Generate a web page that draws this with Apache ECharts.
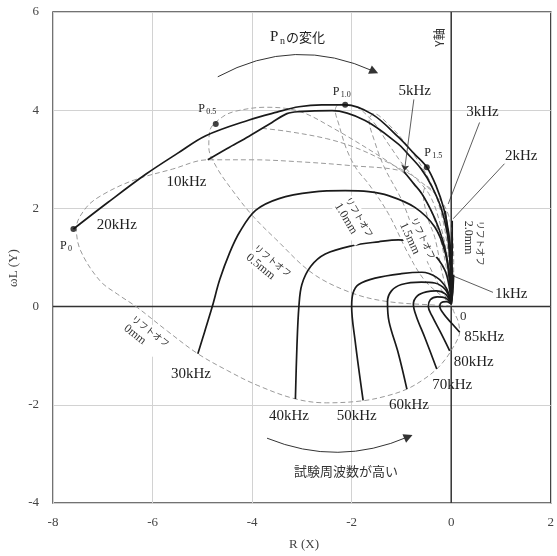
<!DOCTYPE html>
<html><head><meta charset="utf-8">
<script src="https://cdn.jsdelivr.net/npm/echarts@6/dist/echarts.min.js"></script>
<style>html,body{margin:0;padding:0;background:#fff}#c{width:557px;height:556px}</style>
</head><body><div id="c"></div>
<script>
// ---- axis ranges / ticks ----
const xRange = [-8, 2], xStep = 2;
const yRange = [-4, 6], yStep = 2;

// ---- frequency curves (solid): [R, ωL] ----
const f20k = [[-7.59,1.58],[-6.9,2.12],[-6.13,2.7],[-5.5,3.12],[-4.93,3.48],[-4.06,3.8],[-3.5,3.96],[-3.06,4.07],[-2.6,4.11],[-2.13,4.11],[-1.59,3.92],[-1.06,3.45],[-0.75,3.12],[-0.49,2.84],[-0.3,2.45],[-0.15,2.0],[-0.05,1.5],[0.0,1.0],[0.03,0.5],[0.02,0.2],[0,0.05]];
const f10k = [[-4.89,2.99],[-4.5,3.22],[-4.06,3.47],[-3.6,3.75],[-3.3,3.93],[-3.06,3.97],[-2.39,3.99],[-1.73,3.79],[-1.06,3.31],[-0.89,3.13],[-0.6,2.8],[-0.39,2.45],[-0.2,2.0],[-0.08,1.5],[-0.01,0.9],[0.01,0.4],[0,0.05]];
const f5k = [[-0.95,2.75],[-0.75,2.5],[-0.59,2.3],[-0.4,1.95],[-0.26,1.62],[-0.13,1.2],[-0.05,0.75],[-0.01,0.3],[0,0.05]];
const f3k = [[-0.12,1.95],[-0.07,1.5],[-0.03,1.0],[-0.01,0.4],[0,0.05]];
const f2k = [[0.02,1.75],[0.02,1.2],[0.01,0.6],[0,0.05]];
const f1k = [[0.05,0.65],[0.03,0.3],[0,0.05]];
const f30k = [[-5.09,-0.96],[-4.95,-0.5],[-4.8,0],[-4.65,0.55],[-4.45,1.1],[-4.25,1.52],[-3.93,1.96],[-3.46,2.2],[-2.79,2.33],[-2.13,2.36],[-1.66,2.34],[-1.26,2.26],[-0.73,2.02],[-0.33,1.62],[-0.12,1.1],[-0.03,0.5],[0,0.05]];
const f40k = [[-3.13,-1.88],[-3.1,-0.83],[-3.06,0],[-3.0,0.45],[-2.82,0.82],[-2.53,1.07],[-1.99,1.24],[-1.46,1.32],[-1.06,1.36],[-0.7,1.3],[-0.39,1.11],[-0.13,0.75],[-0.03,0.35],[0,0.05]];
const f50k = [[-1.77,-1.91],[-1.93,-0.7],[-2.0,0],[-1.97,0.28],[-1.86,0.45],[-1.53,0.58],[-1.0,0.67],[-0.59,0.7],[-0.3,0.6],[-0.1,0.38],[0,0.08]];
const f60k = [[-0.89,-1.68],[-1.06,-0.96],[-1.25,-0.3],[-1.28,0.1],[-1.2,0.32],[-1.0,0.45],[-0.6,0.5],[-0.33,0.48],[-0.12,0.35],[-0.02,0.12]];
const f70k = [[-0.29,-1.27],[-0.53,-0.63],[-0.7,-0.2],[-0.76,0.05],[-0.68,0.22],[-0.5,0.3],[-0.3,0.32],[-0.12,0.26],[-0.02,0.1]];
const f80k = [[-0.03,-0.9],[-0.2,-0.55],[-0.38,-0.2],[-0.46,0],[-0.42,0.14],[-0.28,0.2],[-0.12,0.18],[-0.02,0.08]];
const f85k = [[0.17,-0.52],[0,-0.33],[-0.15,-0.15],[-0.23,0],[-0.2,0.08],[-0.1,0.1],[-0.02,0.07]];

// ---- lift-off curves (dashed) ----
const lo0 = [[0,0.05],[0.04,0.4],[0.05,0.9],[0.03,1.4],[-0.05,1.85],[-0.2,2.15],[-0.5,2.45],[-0.95,2.75],[-2.0,2.87],[-3.06,2.95],[-4.0,2.99],[-4.89,2.99],[-5.6,2.8],[-6.39,2.57],[-7.0,2.28],[-7.33,2.02],[-7.53,1.6],[-7.45,1.15],[-7.06,0.53],[-6.7,0.25],[-6.33,0],[-5.7,-0.5],[-5.09,-0.96],[-4.5,-1.3],[-3.9,-1.6],[-3.13,-1.88],[-2.5,-1.96],[-1.79,-1.92],[-1.3,-1.82],[-0.89,-1.68],[-0.55,-1.48],[-0.29,-1.27],[-0.1,-1.05],[0.02,-0.86],[0.12,-0.68],[0.17,-0.52],[0.14,-0.3],[0.05,-0.1],[0,0.05]];
const lo05a = [[0,0.02],[-0.33,0.03],[-1.33,0.11],[-2.03,0.29],[-2.79,0.68],[-3.53,1.38],[-3.99,1.85],[-4.39,2.36],[-4.72,2.85],[-4.87,3.25],[-4.85,3.58],[-4.6,3.86],[-4.33,3.98],[-3.73,4.06],[-3.06,3.98],[-2.4,3.65],[-1.4,3.04],[-0.95,2.72],[-0.7,2.45],[-0.45,2.05],[-0.25,1.5],[-0.1,0.8],[0,0.02]];
const lo05b = [[-3.8,3.63],[-3.3,3.57],[-2.5,3.42],[-1.93,3.24],[-1.4,3.0],[-0.86,2.72]];
const lo10 = [[0,0.03],[-0.05,0.8],[-0.2,1.6],[-0.45,2.3],[-0.93,2.84],[-1.26,3.31],[-1.59,3.79],[-1.99,4.1],[-2.25,4.12],[-2.33,4.0],[-2.26,3.72],[-2.1,3.2],[-1.9,2.8],[-1.66,2.5],[-1.26,1.89],[-0.86,1.07],[-0.53,0.53],[-0.13,0.16],[0,0.03]];
const lo15 = [[0,0.03],[-0.05,1.0],[-0.2,1.9],[-0.45,2.6],[-0.9,3.3],[-1.3,3.75],[-1.55,3.93],[-1.65,3.8],[-1.55,3.4],[-1.35,2.85],[-0.99,2.16],[-0.73,1.48],[-0.46,0.87],[-0.2,0.35],[0,0.03]];
const lo20 = [[0,0.03],[-0.02,0.9],[-0.1,1.7],[-0.3,2.25],[-0.5,2.45],[-0.56,2.3],[-0.47,1.8],[-0.33,1.41],[-0.19,0.73],[-0.07,0.25],[0,0.03]];

// ---- P points ----
const pPoints = [[-7.59,1.58],[-4.73,3.72],[-2.13,4.11],[-0.49,2.84]];
const pSubs = ['0','0.5','1.0','1.5'];
const pLabelPos = [[-7.86,1.24],[-5.08,4.03],[-2.38,4.38],[-0.54,3.14]];

// ---- frequency labels: [x(left), y(middle), text] ----
const freqLabels = [
  [-7.12,1.67,'20kHz'],[-5.72,2.53,'10kHz'],[-1.06,4.39,'5kHz'],[0.3,3.96,'3kHz'],
  [1.08,3.06,'2kHz'],[0.88,0.26,'1kHz'],[0.26,-0.63,'85kHz'],[0.05,-1.13,'80kHz'],
  [-0.38,-1.6,'70kHz'],[-1.25,-2.0,'60kHz'],[-2.3,-2.23,'50kHz'],[-3.66,-2.23,'40kHz'],
  [-5.63,-1.38,'30kHz']
];
// pointer lines [from, to]
const pointers = [
  [[-0.75,4.22],[-0.94,2.76]],
  [[0.57,3.75],[-0.06,2.09]],
  [[1.07,2.91],[0.04,1.79]],
  [[0.84,0.29],[0.05,0.62]]
];
// lift-off labels: [x, y (top-left anchor), line1, line2, angle deg clockwise]
const liftLabels = [
  [-6.32,-0.12,'リフトオフ','0mm',38],
  [-3.86,1.32,'リフトオフ','0.5mm',39],
  [-1.97,2.28,'リフトオフ','1.0mm',59],
  [-0.64,1.86,'リフトオフ','1.5mm',65],
  [0.71,1.75,'リフトオフ','2.0mm',90]
];
// arcs [from, to, curveness]
const arcs = [
  [[-4.69,4.68],[-1.55,4.79],0.25],
  [[-3.7,-2.68],[-0.86,-2.65],-0.21]
];

const SERIF = '"Liberation Serif","DejaVu Serif",serif';
const JP = '"Noto Sans CJK JP",sans-serif';
const chart = echarts.init(document.getElementById('c'));

const solidCurves = [f20k,f10k,f5k,f3k,f2k,f1k,f30k,f40k,f50k,f60k,f70k,f80k,f85k];
const dashCurves = [lo0,lo05a,lo05b,lo10,lo15,lo20];

const series = [];
series.push({type:'line',data:[[xRange[0],0],[xRange[1],0]],symbol:'none',lineStyle:{color:'#333',width:1.5},z:2,silent:true});
series.push({type:'line',data:[[0,yRange[0]],[0,yRange[1]]],symbol:'none',lineStyle:{color:'#333',width:1.5},z:2,silent:true});
dashCurves.forEach(d=>series.push({type:'line',data:d,smooth:0.35,symbol:'none',lineStyle:{color:'#9a9a9a',width:1,type:[5,3]},z:3,silent:true}));
solidCurves.forEach(d=>series.push({type:'line',data:d,smooth:0.35,symbol:'none',lineStyle:{color:'#1a1a1a',width:1.7},z:5,silent:true}));
series.push({type:'lines',coordinateSystem:'cartesian2d',z:6,silent:true,
  symbol:['none','none'],lineStyle:{color:'#333',width:0.8,opacity:1},
  data:pointers.slice(1).map(p=>({coords:p}))});
series.push({type:'lines',coordinateSystem:'cartesian2d',z:6,silent:true,
  symbol:['none','arrow'],symbolSize:6,lineStyle:{color:'#333',width:0.8,opacity:1},
  data:[{coords:pointers[0]}]});
arcs.forEach(a=>series.push({type:'lines',coordinateSystem:'cartesian2d',z:6,silent:true,
  symbol:['none','triangle'],symbolSize:9,lineStyle:{color:'#333',width:1,curveness:a[2],opacity:1},
  data:[{coords:[a[0],a[1]]}]}));
series.push({type:'scatter',data:pPoints,symbolSize:6,itemStyle:{color:'#111'},z:7,silent:true});

chart.setOption({
  animation:false,
  grid:{left:53,right:4,top:12,bottom:53,show:true,borderColor:'#444',borderWidth:1.5},
  xAxis:{type:'value',min:xRange[0],max:xRange[1],interval:xStep,
    axisLine:{show:false},axisTick:{show:false},
    axisLabel:{margin:13,color:'#444',fontFamily:SERIF,fontSize:13},
    splitLine:{lineStyle:{color:'#d2d2d2',width:1}}},
  yAxis:{type:'value',min:yRange[0],max:yRange[1],interval:yStep,
    axisLine:{show:false},axisTick:{show:false},
    axisLabel:{margin:14,color:'#444',fontFamily:SERIF,fontSize:13},
    splitLine:{lineStyle:{color:'#d2d2d2',width:1}}},
  series:series
});

const px = p => chart.convertToPixel({gridIndex:0}, p);
const g = [];
freqLabels.forEach(l=>{const p=px([l[0],l[1]]);
  g.push({type:'text',x:p[0],y:p[1],z:20,style:{text:l[2],font:'15px '+SERIF,fill:'#222',align:'left',verticalAlign:'middle'}});});
{const p=px([0.24,-0.2]);g.push({type:'text',x:p[0],y:p[1],z:20,style:{text:'0',font:'13px '+SERIF,fill:'#333',align:'center',verticalAlign:'middle'}});}
pLabelPos.forEach((l,i)=>{const p=px(l);
  g.push({type:'text',x:p[0],y:p[1],z:20,style:{text:'P',font:'12px '+SERIF,fill:'#222',align:'left',verticalAlign:'middle'}});
  g.push({type:'text',x:p[0]+8,y:p[1]+3,z:20,style:{text:pSubs[i],font:'8px '+SERIF,fill:'#222',align:'left',verticalAlign:'middle'}});});
liftLabels.forEach(l=>{const p=px([l[0],l[1]]);
  g.push({type:'text',x:p[0],y:p[1],rotation:-l[4]*Math.PI/180,z:15,
    style:{text:'{k|'+l[2]+'}\n{m|'+l[3]+'}',align:'left',verticalAlign:'top',fill:'#333',backgroundColor:'#fff',
      rich:{k:{fontFamily:JP,fontSize:9,lineHeight:12,fill:'#333'},m:{fontFamily:SERIF,fontSize:12,lineHeight:13,fill:'#333'}}}});});
{const p=px([-3.64,5.48]);
  g.push({type:'text',x:p[0],y:p[1],z:20,style:{text:'P',font:'15px '+SERIF,fill:'#222',align:'left',verticalAlign:'middle'}});
  g.push({type:'text',x:p[0]+10,y:p[1]+4,z:20,style:{text:'n',font:'10px '+SERIF,fill:'#222',align:'left',verticalAlign:'middle'}});
  g.push({type:'text',x:p[0]+16,y:p[1],z:20,style:{text:'の変化',font:'13px '+JP,fill:'#222',align:'left',verticalAlign:'middle'}});}
{const p=px([-3.16,-3.34]);g.push({type:'text',x:p[0],y:p[1],z:20,style:{text:'試験周波数が高い',font:'13px '+JP,fill:'#333',align:'left',verticalAlign:'middle'}});}
{const p=px([-0.23,5.48]);g.push({type:'text',x:p[0],y:p[1],rotation:Math.PI/2,z:20,style:{text:'Y軸',font:'12px '+JP,fill:'#333',align:'center',verticalAlign:'middle'}});}
g.push({type:'text',x:304,y:545,z:20,style:{text:'R (X)',font:'13px '+SERIF,fill:'#444',align:'center',verticalAlign:'middle'}});
g.push({type:'text',x:14,y:268,rotation:Math.PI/2,z:20,style:{text:'ωL (Y)',font:'13px '+SERIF,fill:'#444',align:'center',verticalAlign:'middle'}});
chart.setOption({graphic:g});
</script></body></html>
